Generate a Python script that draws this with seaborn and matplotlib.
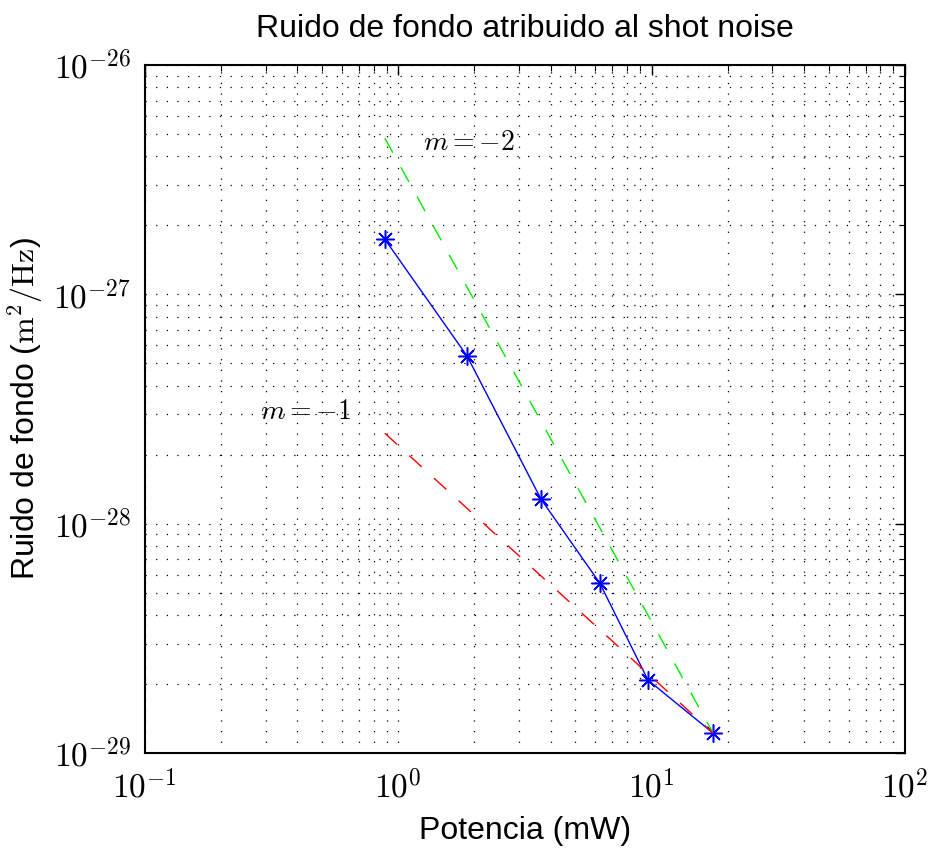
import numpy as np
import pandas as pd
import seaborn as sns
import matplotlib
matplotlib.use("Agg")
import matplotlib.pyplot as plt
from matplotlib.ticker import FuncFormatter, NullFormatter

# Data
potencia = [0.885, 1.87, 3.66, 6.25, 9.68, 17.5]          # mW
ruido = [1.74e-27, 5.38e-28, 1.28e-28, 5.5e-29, 2.08e-29, 1.22e-29]  # m^2/Hz

# Reference slopes (endpoints)
ref_x = [0.885, 17.5]
ref_m2 = [4.8e-27, 1.22e-29]
ref_m1 = [2.48e-28, 1.22e-29]

# Tick positions
x_ticks = [1e-1, 1e0, 1e1, 1e2]
y_ticks = [1e-29, 1e-28, 1e-27, 1e-26]

sns.set_style("white")
plt.rcParams['font.family'] = ['Liberation Sans', 'DejaVu Sans']
plt.rcParams['mathtext.fontset'] = 'cm'
plt.rcParams['text.color'] = 'black'
plt.rcParams['axes.labelcolor'] = 'black'
plt.rcParams['xtick.color'] = 'black'
plt.rcParams['ytick.color'] = 'black'

fig = plt.figure(figsize=(9.29, 8.51), dpi=100)
ax = fig.add_axes([0.156, 0.1152, 0.818, 0.8084])

df = pd.DataFrame({"x": potencia, "y": ruido})
sns.lineplot(data=df, x="x", y="y", ax=ax, color="blue", lw=1,
             marker=(8, 2, 0), markersize=13, markeredgecolor="blue",
             markerfacecolor="blue", markeredgewidth=1.1, sort=False)
sns.lineplot(x=ref_x, y=ref_m2, ax=ax, color="#00ee00", lw=1)
sns.lineplot(x=ref_x, y=ref_m1, ax=ax, color="red", lw=1)
ax.lines[1].set_linestyle((0, (12, 12)))
ax.lines[2].set_linestyle((0, (12, 12)))

ax.set_xscale("log")
ax.set_yscale("log")
ax.set_xlim(0.1, 100)
ax.set_ylim(1e-29, 1e-26)
ax.set_xticks(x_ticks)
ax.set_yticks(y_ticks)

fmt = FuncFormatter(lambda v, p: r"$10^{%d}$" % int(round(np.log10(v))))
ax.xaxis.set_major_formatter(fmt)
ax.yaxis.set_major_formatter(fmt)
ax.xaxis.set_minor_formatter(NullFormatter())
ax.yaxis.set_minor_formatter(NullFormatter())

ax.grid(True, which="both", color="k", linestyle=(0, (1, 7.5)), linewidth=0.9)
for s in ax.spines.values():
    s.set_linewidth(1.5)
    s.set_color("black")

ax.tick_params(which="both", direction="in", top=True, right=True,
               labelsize=24, color="black", labelcolor="black")
ax.tick_params(axis="y", pad=10)
ax.tick_params(axis="x", pad=12)
ax.tick_params(which="major", length=7, width=1)
ax.tick_params(which="minor", length=4, width=0.8)

ax.text(1.25, 4.25e-27, r"$m=-2$", fontsize=20)
ax.text(0.285, 2.85e-28, r"$m=-1$", fontsize=20)

ax.set_title("Ruido de fondo atribuido al shot noise", fontsize=23, pad=20)
ax.set_xlabel("Potencia (mW)", fontsize=23, labelpad=8)
ax.set_ylabel(r"Ruido de fondo ($\mathrm{m^2/Hz}$)", fontsize=23, labelpad=6)

fig.savefig("out.png", dpi=100)
